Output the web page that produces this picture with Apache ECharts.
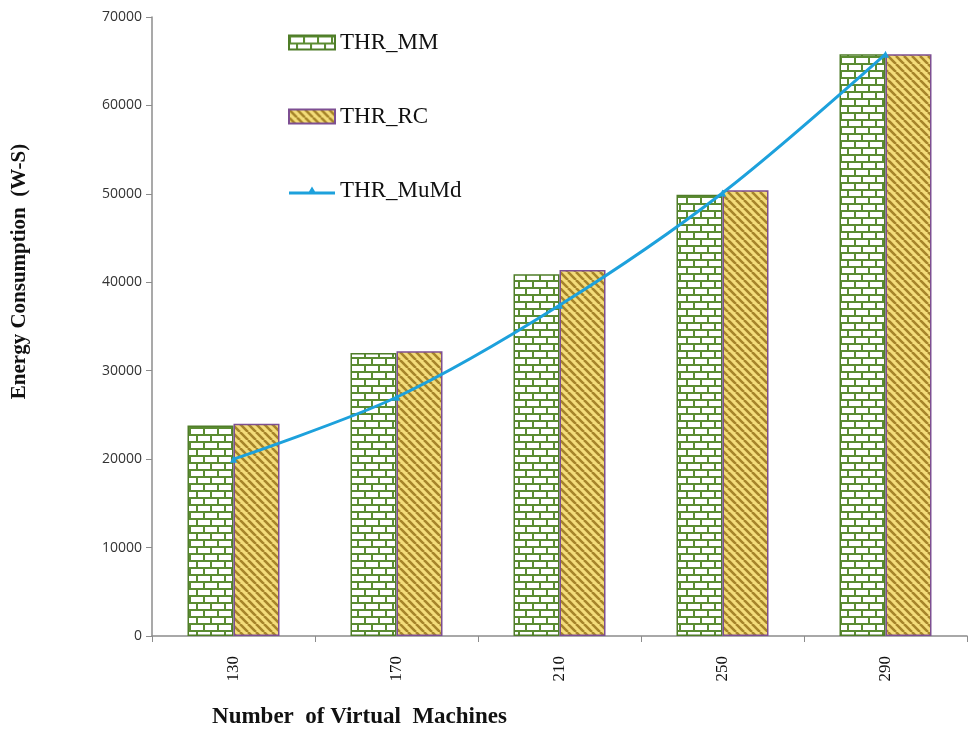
<!DOCTYPE html>
<html>
<head>
<meta charset="utf-8">
<script src="https://cdn.jsdelivr.net/npm/echarts@6/dist/echarts.min.js"></script>
<style>
  html, body { margin: 0; padding: 0; background: #fff; }
  #chart { width: 972px; height: 732px; }
</style>
</head>
<body>
<div id="chart"></div>
<script>
// Energy consumption per number of virtual machines
const categories = ['130', '170', '210', '250', '290'];
const thrMM = [23800, 32000, 40900, 49900, 65800];
const thrRC = [24000, 32200, 41400, 50400, 65800];
const thrMuMd = [20000, 27000, 37400, 50100, 65800];

// Brick fill for THR_MM
function brickPattern() {
  const c = document.createElement('canvas');
  const w = 14, h = 14;
  c.width = w; c.height = h;
  const g = c.getContext('2d');
  g.fillStyle = '#ffffff';
  g.fillRect(0, 0, w, h);
  g.fillStyle = '#5b8c32';
  g.fillRect(0, 0, w, 2);
  g.fillRect(0, 7, w, 2);
  g.fillRect(0, 0, 2, 7);
  g.fillRect(7, 7, 2, 7);
  return c;
}

// Diagonal stripe fill for THR_RC
function stripePattern() {
  const c = document.createElement('canvas');
  const s = 8;
  c.width = s; c.height = s;
  const g = c.getContext('2d');
  g.fillStyle = '#f3dc7a';
  g.fillRect(0, 0, s, s);
  g.strokeStyle = '#a6842a';
  g.lineWidth = 2.6;
  g.beginPath();
  for (let k = -s; k <= 2 * s; k += s) {
    g.moveTo(k, 0);
    g.lineTo(k + s, s);
  }
  g.stroke();
  return c;
}

const chart = echarts.init(document.getElementById('chart'));
const serif = '"Liberation Serif", "DejaVu Serif", serif';

chart.setOption({
  backgroundColor: '#ffffff',
  animation: false,
  grid: { left: 152, right: 5, top: 17, bottom: 96, outerBoundsMode: 'none', containLabel: false },
  legend: {
    orient: 'vertical',
    left: 283,
    top: 26,
    itemGap: 51,
    itemWidth: 46,
    itemHeight: 14,
    textStyle: { fontFamily: serif, fontSize: 23, color: '#111' },
    data: [
      { name: 'THR_MM', icon: 'rect' },
      { name: 'THR_RC', icon: 'rect' },
      { name: 'THR_MuMd', icon: 'path://M0,6 L20,6 L23,1 L26,6 L46,6 L46,9 L0,9 Z' }
    ]
  },
  xAxis: {
    type: 'category',
    data: categories,
    boundaryGap: true,
    axisLine: { lineStyle: { color: '#8c8c8c', width: 1.5 } },
    axisTick: { show: true, alignWithLabel: false, length: 6, lineStyle: { color: '#8c8c8c' } },
    axisLabel: { rotate: 90, fontFamily: serif, fontSize: 17, color: '#111', margin: 20 },
    name: 'Number  of Virtual  Machines',
    nameLocation: 'middle',
    nameGap: 70,
    nameTextStyle: { fontFamily: serif, fontSize: 23, fontWeight: 'bold', color: '#111', padding: [0, 0, 0, -400] }
  },
  yAxis: {
    type: 'value',
    min: 0,
    max: 70000,
    interval: 10000,
    splitLine: { show: false },
    axisLine: { show: true, lineStyle: { color: '#8c8c8c', width: 1.5 } },
    axisTick: { show: true, length: 6, lineStyle: { color: '#8c8c8c' } },
    axisLabel: {
      fontFamily: '"Open Sans", "Liberation Sans", sans-serif',
      fontSize: 14,
      color: '#333',
      margin: 10,
      formatter: v => String(v)
    },
    name: 'Energy Consumption  (W-S)',
    nameLocation: 'middle',
    nameRotate: 90,
    nameGap: 122,
    nameTextStyle: { fontFamily: serif, fontSize: 21, fontWeight: 'bold', color: '#111', padding: [0, 0, 0, 110] }
  },
  series: [
    {
      name: 'THR_MM',
      type: 'bar',
      data: thrMM,
      barWidth: 46,
      barGap: '0%',
      itemStyle: {
        color: { image: brickPattern(), repeat: 'repeat' },
        borderColor: '#4f7d28',
        borderWidth: 1.5
      }
    },
    {
      name: 'THR_RC',
      type: 'bar',
      data: thrRC,
      barWidth: 46,
      barGap: '0%',
      itemStyle: {
        color: { image: stripePattern(), repeat: 'repeat' },
        borderColor: '#7d4f92',
        borderWidth: 1.5
      }
    },
    {
      name: 'THR_MuMd',
      type: 'line',
      data: thrMuMd,
      smooth: 0.3,
      symbol: 'triangle',
      symbolSize: 7,
      lineStyle: { color: '#1da1dc', width: 3 },
      itemStyle: { color: '#1da1dc' },
      z: 5
    }
  ]
});
</script>
</body>
</html>
